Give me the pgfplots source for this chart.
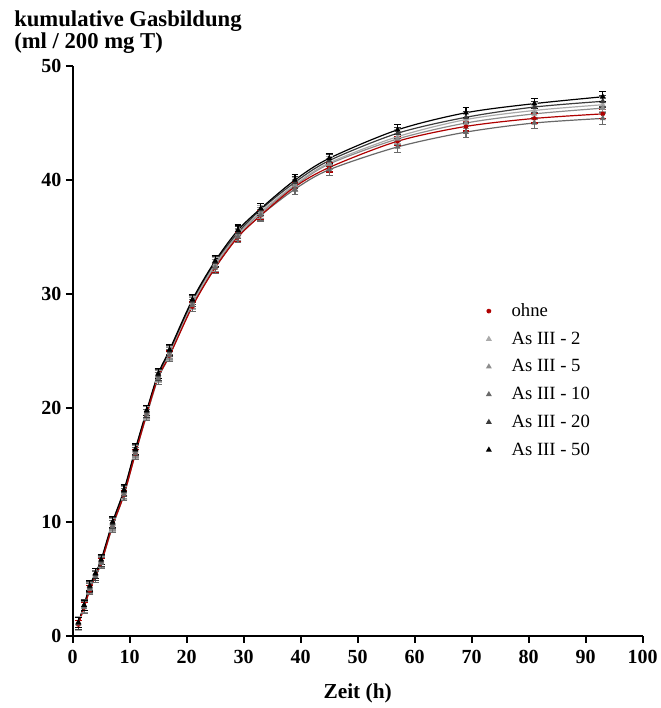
\documentclass[border=0pt]{standalone}
\usepackage{fontspec}
\setmainfont{Liberation Serif}
\usepackage{pgfplots}
\pgfplotsset{compat=1.18}
\usepackage{pgfplotstable}

\definecolor{cOhne}{RGB}{175,0,0}
\definecolor{cA2}{RGB}{170,170,170}
\definecolor{cA5}{RGB}{140,140,140}
\definecolor{cA10}{RGB}{105,105,105}
\definecolor{cA20}{RGB}{60,60,60}
\definecolor{cA50}{RGB}{0,0,0}

% kumulative Gasbildung, Mittelwerte je Ansatz
\pgfplotstableread{
t  ohne a2   a5   a10  a20  a50
1  1.0  1.1  1.1  1.1  1.1  1.2
2  2.5  2.6  2.6  2.5  2.7  2.7
3  4.0  4.2  4.2  4.1  4.3  4.4
4  5.3  5.3  5.4  5.2  5.4  5.5
5  6.4  6.5  6.5  6.4  6.6  6.7
7  9.7  9.8  9.8  9.6  9.9  10.0
9  12.4 12.6 12.6 12.4 12.7 12.8
11 16.0 16.2 16.2 16.0 16.3 16.4
13 19.5 19.6 19.6 19.4 19.7 19.8
15 22.7 22.8 22.8 22.6 22.9 23.0
17 24.6 24.8 24.8 24.6 25.0 25.1
21 28.9 29.2 29.2 29.0 29.4 29.5
25 32.3 32.6 32.5 32.3 32.8 32.9
29 35.0 35.3 35.2 35.0 35.4 35.6
33 36.9 37.2 37.1 36.9 37.4 37.5
39 39.4 39.6 39.5 39.2 39.8 40.0
45 41.1 41.5 41.4 40.9 41.7 41.9
57 43.4 43.8 43.6 42.9 44.1 44.4
69 44.7 45.3 45.0 44.2 45.5 45.9
81 45.4 46.1 45.8 45.0 46.4 46.7
93 45.8 46.6 46.3 45.4 46.9 47.3
}\gas

\begin{document}
\begin{tikzpicture}
\begin{axis}[
  scale only axis,
  width=427.5pt, height=427.5pt,
  xmin=0, xmax=100, ymin=0, ymax=50,
  xtick={0,10,...,100}, ytick={0,10,...,50},
  axis lines*=left,
  axis line style={line width=1.5pt},
  tick align=outside,
  major tick length=5pt,
  tick style={black, line width=1.5pt},
  /pgf/number format/assume math mode=true,
  ticklabel style={font=\fontsize{15}{17}\selectfont\bfseries},
  xticklabel style={yshift=-2pt},
  xlabel={Zeit (h)},
  xlabel style={font=\fontsize{16}{18}\selectfont\bfseries, yshift=-8pt},
  legend style={draw=none, fill=none, font=\fontsize{14}{16}\selectfont,
    at={(rel axis cs:0.716,0.593)}, anchor=north west,
    row sep=6pt},
  legend cell align=left,
  legend image code/.code={\path[draw=none] (-0.1cm,0) -- (0.53cm,0); \draw[#1] plot coordinates {(0cm,0cm)};},
  every axis plot/.append style={line width=0.9pt},
  clip=false,
]
\coordinate (SW) at (rel axis cs:0,0);
\coordinate (NE) at (rel axis cs:1,1);

% Kurven
\addplot[cA10, smooth, no marks, forget plot] table[x=t,y=a10]{\gas};
\addplot[cA5, smooth, no marks, forget plot] table[x=t,y=a5]{\gas};
\addplot[cA2, smooth, no marks, forget plot] table[x=t,y=a2]{\gas};
\addplot[cA20, smooth, no marks, forget plot] table[x=t,y=a20]{\gas};
\addplot[cA50, smooth, no marks, forget plot] table[x=t,y=a50]{\gas};
\addplot[cOhne, smooth, no marks, forget plot] table[x=t,y=ohne]{\gas};

% Messpunkte mit Fehlerbalken
\pgfplotsset{mpkt/.style={only marks, mark size=1.7pt,
  error bars/.cd, y dir=both, y fixed=#1,
  error bar style={line width=0.8pt},
  error mark options={rotate=90, mark size=2.6pt, line width=0.8pt},
  /pgfplots/.cd}}
\addplot[cOhne, mark=asterisk, mark options={line width=1.3pt}, mpkt=0.4] table[x=t,y=ohne]{\gas};
\addlegendentry{ohne}
\addplot[cA2, mark=triangle*, mpkt=0.6] table[x=t,y=a2]{\gas};
\addlegendentry{As III - 2}
\addplot[cA5, mark=triangle*, mpkt=0.5] table[x=t,y=a5]{\gas};
\addlegendentry{As III - 5}
\addplot[cA10, mark=triangle*, mpkt=0.5] table[x=t,y=a10]{\gas};
\addlegendentry{As III - 10}
\addplot[cA20, mark=triangle*, mpkt=0.5] table[x=t,y=a20]{\gas};
\addlegendentry{As III - 20}
\addplot[cA50, mark=triangle*, mpkt=0.45] table[x=t,y=a50]{\gas};
\addlegendentry{As III - 50}

\node[anchor=base west, font=\fontsize{17}{19}\selectfont\bfseries, inner sep=0pt]
  at ([shift={(-44pt,29.3pt)}]rel axis cs:0,1) {kumulative Gasbildung};
\node[anchor=base west, font=\fontsize{17}{19}\selectfont\bfseries, inner sep=0pt]
  at ([shift={(-44pt,12.75pt)}]rel axis cs:0,1) {(ml / 200 mg T)};
\end{axis}
\pgfresetboundingbox
\path ([shift={(-54.5pt,-54pt)}]SW) rectangle ([shift={(13.5pt,49.5pt)}]NE);
\end{tikzpicture}
\end{document}
